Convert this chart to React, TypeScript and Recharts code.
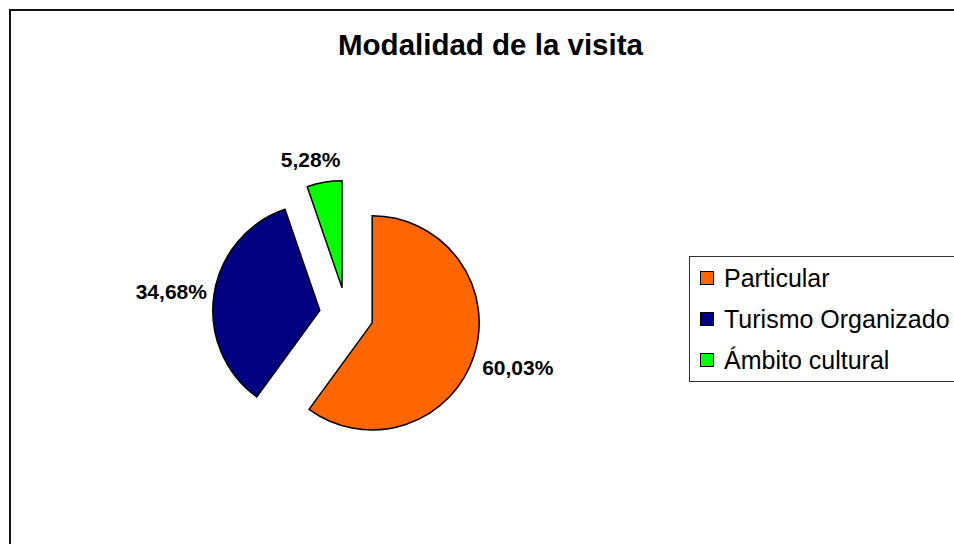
import { PieChart, Pie, Cell, Legend } from "recharts";

const CATEGORIES = ["Particular", "Turismo Organizado", "Ámbito cultural"];
const SHARES = [60.03, 34.68, 5.28];
const COLORS = ["#FF6600", "#000080", "#00FF00"];
const TITLE = "Modalidad de la visita";

const W = 954;
const H = 544;
const CX = 346.5;
const CY = 314.5;
const RADIUS = 107;
const EXPLODE = 27;
const LABEL_SIZE = 21;
const FONT = '"Liberation Sans", Arial, sans-serif';
// small per-label corrections, Excel places these a bit irregularly
const LABEL_NUDGE = [
  [0, -3],
  [3, 4],
  [-10, 0],
];

const data = CATEGORIES.map((name, i) => ({ name, value: SHARES[i] }));
const total = SHARES.reduce((a, b) => a + b, 0);

// recharts angles: 0 = 3 o'clock, counter-clockwise. slices run clockwise from 12 o'clock
const midAngles = SHARES.map((v, i) => {
  const before = SHARES.slice(0, i).reduce((a, b) => a + b, 0);
  return 90 - (360 * (before + v / 2)) / total;
});

const fmt = (v: number) => v.toFixed(2).replace(".", ",") + "%";

function makeLabel(i: number, pcx: number, pcy: number) {
  return (props: any) => {
    if (props.index !== i) return null;
    const a = (midAngles[i] * Math.PI) / 180;
    const ux = Math.cos(a);
    const uy = -Math.sin(a);
    const text = fmt(SHARES[i]);
    const halfW = (text.length * 0.562 * LABEL_SIZE) / 2;
    const dist = RADIUS + 10 + Math.abs(ux) * halfW + Math.abs(uy) * 8;
    const x = pcx + ux * dist + LABEL_NUDGE[i][0];
    const y = pcy + uy * dist + LABEL_NUDGE[i][1];
    return (
      <text
        x={x}
        y={y + 7.5}
        textAnchor="middle"
        fontFamily={FONT}
        fontSize={LABEL_SIZE}
        fontWeight="bold"
        fill="#000"
      >
        {text}
      </text>
    );
  };
}

function LegendBox() {
  return (
    <div
      style={{
        border: "1px solid #333",
        background: "#fff",
        fontFamily: FONT,
        fontSize: 25,
        color: "#000",
        boxSizing: "border-box",
        height: 126,
        width: 300,
      }}
    >
      {CATEGORIES.map((c, i) => (
        <div
          key={c}
          style={{ display: "flex", alignItems: "center", height: 41.3 }}
        >
          <span
            style={{
              display: "inline-block",
              width: 12,
              height: 12,
              marginLeft: 10,
              marginRight: 10,
              background: COLORS[i],
              border: "1px solid #000",
            }}
          />
          <span style={{ lineHeight: "28px", whiteSpace: "nowrap" }}>{c}</span>
        </div>
      ))}
    </div>
  );
}

export default function App() {
  return (
    <div
      style={{
        position: "absolute",
        left: 0,
        top: 0,
        width: W,
        height: H,
        overflow: "hidden",
        background: "#fff",
      }}
    >
      <div
        style={{
          position: "absolute",
          left: 9,
          top: 9,
          width: 1100,
          height: 700,
          borderLeft: "2px solid #111",
          borderTop: "2px solid #111",
        }}
      />
      <div
        style={{
          position: "absolute",
          left: 0,
          top: 30,
          width: 981,
          textAlign: "center",
          fontFamily: FONT,
          fontWeight: "bold",
          fontSize: 29.5,
          lineHeight: "29.5px",
          color: "#000",
        }}
      >
        {TITLE}
      </div>
      <div style={{ position: "absolute", left: 0, top: 0 }}>
        <PieChart
          width={W}
          height={H}
          margin={{ top: 0, right: 0, bottom: 0, left: 0 }}
        >
          {SHARES.map((_, i) => {
            const a = (midAngles[i] * Math.PI) / 180;
            const pcx = CX + EXPLODE * Math.cos(a);
            const pcy = CY - EXPLODE * Math.sin(a);
            return (
              <Pie
                key={i}
                data={data}
                dataKey="value"
                nameKey="name"
                cx={pcx}
                cy={pcy}
                outerRadius={RADIUS}
                startAngle={90}
                endAngle={-270}
                isAnimationActive={false}
                label={makeLabel(i, pcx, pcy)}
                labelLine={false}
                legendType={i === 0 ? "square" : "none"}
              >
                {data.map((d, j) => (
                  <Cell
                    key={d.name}
                    fill={j === i ? COLORS[j] : "transparent"}
                    stroke={j === i ? "#000" : "none"}
                    strokeWidth={1.5}
                  />
                ))}
              </Pie>
            );
          })}
          <Legend
            content={() => <LegendBox />}
            wrapperStyle={{ left: 689, top: 256, width: 300 }}
          />
        </PieChart>
      </div>
    </div>
  );
}
